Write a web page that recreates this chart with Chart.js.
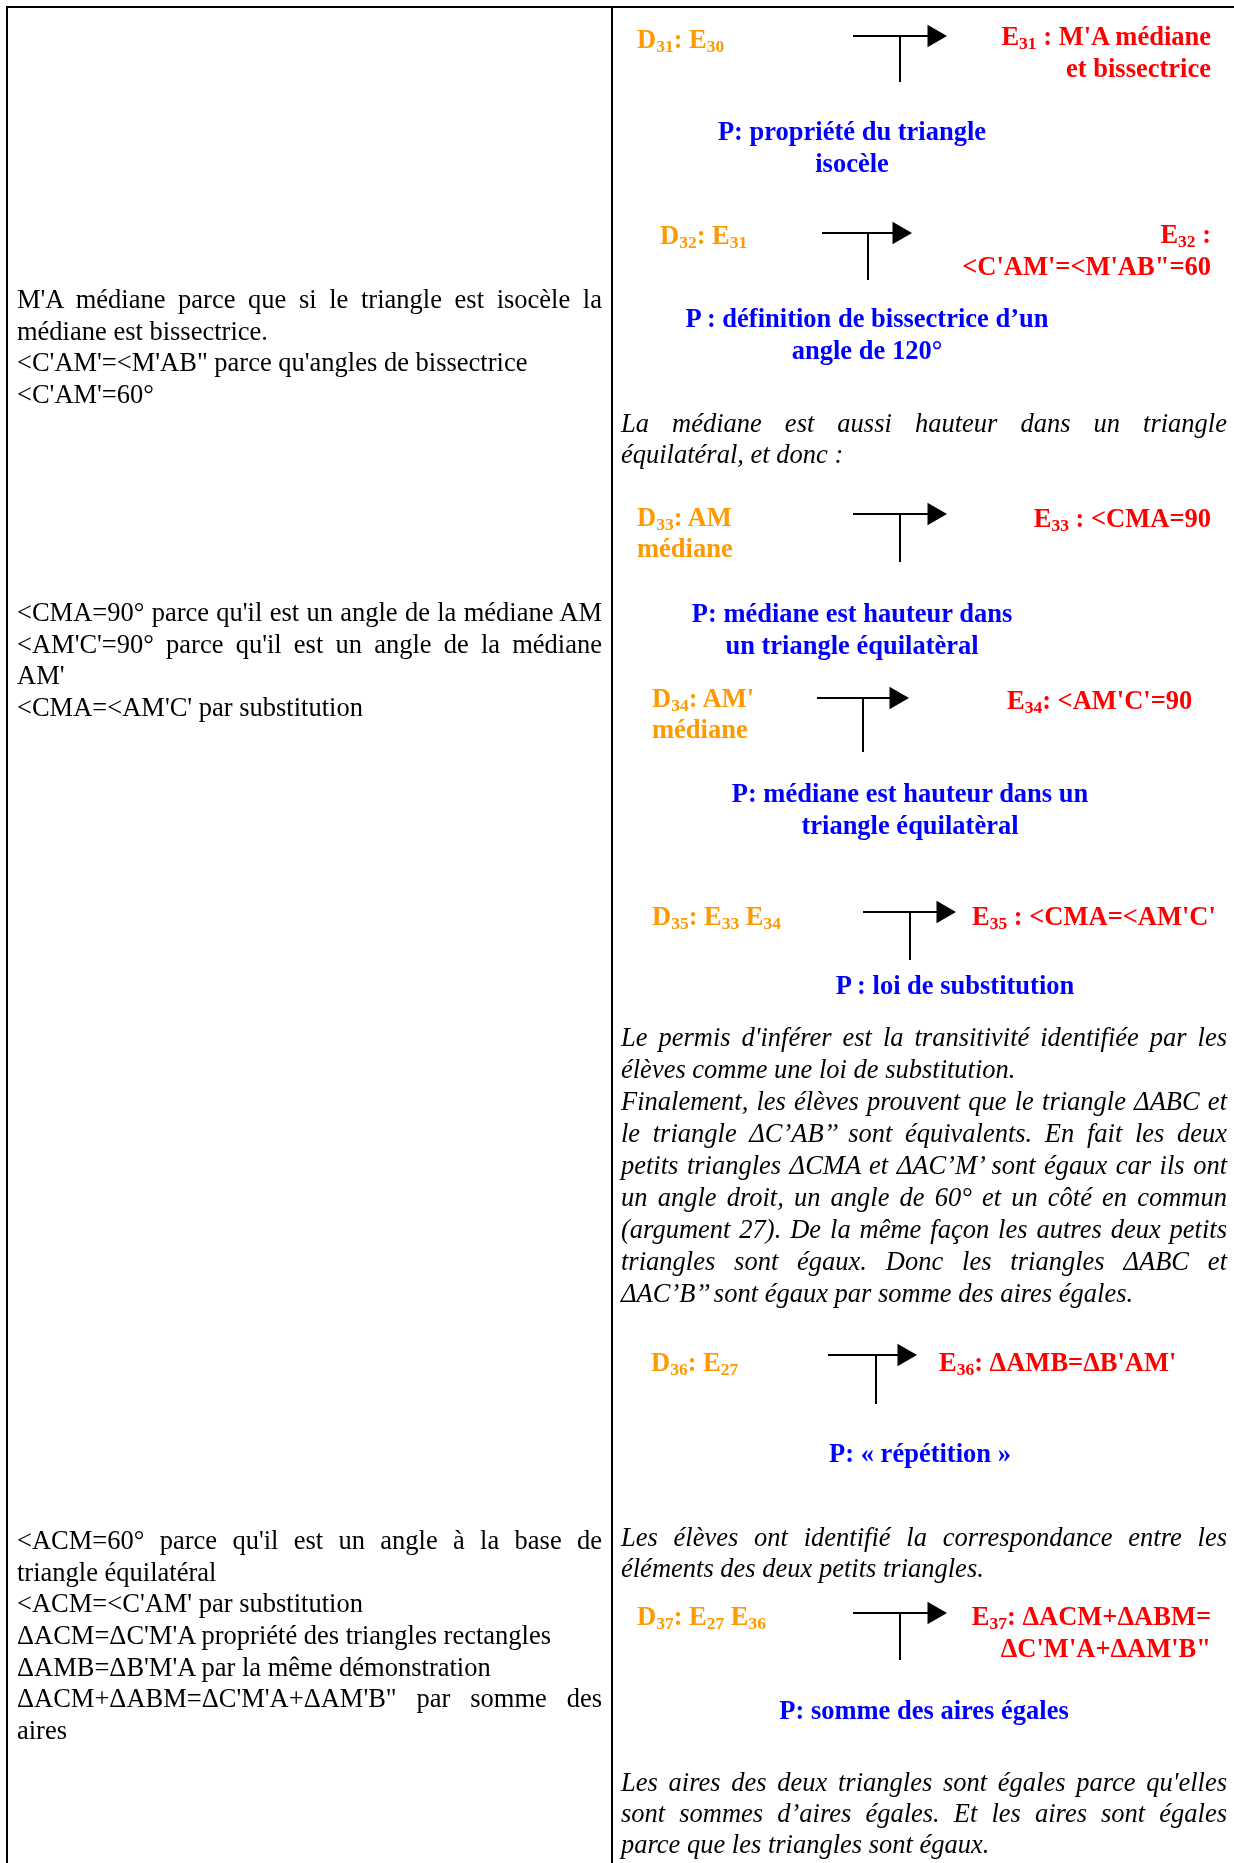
<!DOCTYPE html>
<html lang="fr">
<head>
<meta charset="UTF-8" />
<title>Étapes de la démonstration</title>
<script src="https://cdn.jsdelivr.net/npm/chart.js"></script>
<style>
  html, body { margin: 0; padding: 0; background: #fff; }
  #page {
    position: relative; width: 1234px; height: 1863px; overflow: hidden;
    font-family: "Liberation Serif", "Times New Roman", serif;
    font-size: 26.5px; color: #000;
  }
  #arrows { position: absolute; left: 0; top: 0; }
  .rule { position: absolute; background: #000; }
  .blk { position: absolute; white-space: nowrap; }
  .blk .j { text-align: justify; text-align-last: justify; white-space: normal; }
  .bold { font-weight: bold; }
  .it { font-style: italic; }
  .D { color: #ff9900; }
  .E { color: #ff0000; }
  .P { color: #0000ff; }
  sub { font-size: 0.66em; vertical-align: -0.22em; line-height: 0; }
</style>
</head>
<body>
<div id="page">
  <canvas id="arrows" width="1234" height="1863"></canvas>
  <div class="rule" style="left:6px;top:6px;width:1228px;height:2px"></div>
  <div class="rule" style="left:6px;top:6px;width:2px;height:1857px"></div>
  <div class="rule" style="left:611px;top:6px;width:2px;height:1857px"></div>
</div>

<script>
  // ---- texte de la colonne de gauche (explications des élèves) ----
  const leftNotes = [
    ["M'A médiane parce que si le triangle est isocèle la",
     "médiane est bissectrice.",
     "<C'AM'=<M'AB\" parce qu'angles de bissectrice",
     "<C'AM'=60°"],
    ["<CMA=90° parce qu'il est un angle de la médiane AM",
     "<AM'C'=90° parce qu'il est un angle de la médiane",
     "AM'",
     "<CMA=<AM'C' par substitution"],
    ["<ACM=60° parce qu'il est un angle à la base de",
     "triangle équilatéral",
     "<ACM=<C'AM' par substitution",
     "ΔACM=ΔC'M'A propriété des triangles rectangles",
     "ΔAMB=ΔB'M'A par la même démonstration",
     "ΔACM+ΔABM=ΔC'M'A+ΔAM'B\" par somme des",
     "aires"]
  ];
  const leftJustify = [[1, 0, 0, 0], [1, 1, 0, 0], [1, 0, 0, 0, 0, 1, 0]];
  const leftRows = [300, 613, 1541];

  // ---- étapes D -> E avec permis P ----
  const premises = [
    ["D_{31}: E_{30}"],
    ["D_{32}: E_{31}"],
    ["D_{33}: AM", "médiane"],
    ["D_{34}: AM'", "médiane"],
    ["D_{35}: E_{33} E_{34}"],
    ["D_{36}: E_{27}"],
    ["D_{37}: E_{27} E_{36}"]
  ];
  const conclusions = [
    ["E_{31} : M'A médiane", "et bissectrice"],
    ["E_{32} :", "<C'AM'=<M'AB\"=60"],
    ["E_{33} : <CMA=90"],
    ["E_{34}: <AM'C'=90"],
    ["E_{35} : <CMA=<AM'C'"],
    ["E_{36}: ΔAMB=ΔB'AM'"],
    ["E_{37}: ΔACM+ΔABM=", "ΔC'M'A+ΔAM'B\""]
  ];
  const permits = [
    ["P: propriété du triangle", "isocèle"],
    ["P : définition de bissectrice d’un", "angle de 120°"],
    ["P: médiane est hauteur dans", "un triangle équilatèral"],
    ["P: médiane est hauteur dans un", "triangle équilatèral"],
    ["P : loi de substitution"],
    ["P: « répétition »"],
    ["P: somme des aires égales"]
  ];

  // ---- commentaires en italique ----
  const comments = [
    ["La médiane est aussi hauteur dans un triangle",
     "équilatéral, et donc :"],
    ["Le permis d'inférer est la transitivité identifiée par les",
     "élèves comme une loi de substitution.",
     "Finalement, les élèves prouvent que le triangle ΔABC et",
     "le triangle ΔC’AB’’ sont équivalents. En fait les deux",
     "petits triangles ΔCMA et ΔAC’M’ sont égaux car ils ont",
     "un angle droit, un angle de 60° et un côté en commun",
     "(argument 27). De la même façon les autres deux petits",
     "triangles sont égaux. Donc les triangles ΔABC et",
     "ΔAC’B’’ sont égaux par somme des aires égales."],
    ["Les élèves ont identifié la correspondance entre les",
     "éléments des deux petits triangles."],
    ["Les aires des deux triangles sont égales parce qu'elles",
     "sont sommes d’aires égales. Et les aires sont égales",
     "parce que les triangles sont égaux."]
  ];
  const commentJustify = [[1, 0], [1, 0, 1, 1, 1, 1, 1, 1, 0], [1, 0], [1, 1, 0]];
  const commentRows = [423, 1037, 1537, 1782];
  const commentLead = [31, 32, 31, 31];

  // ---- flèches (coordonnées de page) ----
  const arrowY = [36, 233, 514, 698, 912, 1355, 1613];
  const arrowStart = [853, 822, 853, 817, 863, 828, 853];
  const arrowTip = [947, 912, 947, 909, 956, 917, 947];
  const stemX = [900, 868, 900, 863, 910, 876, 900];
  const stemEnd = [82, 280, 562, 752, 960, 1404, 1660];

  // layout of the step texts
  const premiseAt = [[637, 39], [660, 235], [637, 517], [652, 698], [652, 916], [651, 1362], [637, 1616]];
  const conclusionAt = [[1211, 36, "right"], [1211, 234, "right"], [1211, 518, "right"], [1007, 700, "left"],
                        [972, 916, "left"], [939, 1362, "left"], [1211, 1616, "right"]];
  const permitAt = [[852, 131], [867, 318], [852, 613], [910, 793], [955, 985], [920, 1453], [924, 1710]];

  const page = document.getElementById("page");

  function fmt(s) {
    return s.replace(/&/g, "&amp;").replace(/</g, "&lt;").replace(/>/g, "&gt;")
            .replace(/_\{(\d+)\}/g, "<sub>$1</sub>");
  }

  function addBlock(lines, cls, lh, centre, box, just) {
    const el = document.createElement("div");
    el.className = "blk " + cls;
    el.style.lineHeight = lh + "px";
    el.style.top = (centre - lh / 2) + "px";
    el.style.left = box.left + "px";
    if (box.width) el.style.width = box.width + "px";
    if (box.align) el.style.textAlign = box.align;
    lines.forEach((line, i) => {
      const row = document.createElement("div");
      row.innerHTML = fmt(line);
      if (just && just[i]) row.className = "j";
      el.appendChild(row);
    });
    page.appendChild(el);
  }

  leftNotes.forEach((lines, i) => {
    addBlock(lines, "", 31.6, leftRows[i], { left: 17, width: 585 }, leftJustify[i]);
  });

  comments.forEach((lines, i) => {
    addBlock(lines, "it", commentLead[i], commentRows[i], { left: 621, width: 606 }, commentJustify[i]);
  });

  premises.forEach((lines, i) => {
    addBlock(lines, "bold D", 31, premiseAt[i][1], { left: premiseAt[i][0] });
  });

  conclusions.forEach((lines, i) => {
    const [x, y, align] = conclusionAt[i];
    const box = align === "right" ? { left: x - 500, width: 500, align: "right" } : { left: x };
    addBlock(lines, "bold E", 32, y, box);
  });

  permits.forEach((lines, i) => {
    addBlock(lines, "bold P", 32, permitAt[i][1], { left: permitAt[i][0] - 300, width: 600, align: "center" });
  });

  // ---- flèches dessinées avec Chart.js ----
  const HEAD = 13;
  const datasets = [];
  arrowY.forEach((y, i) => {
    const line = { showLine: true, borderColor: "#000", borderWidth: 2, pointRadius: 0 };
    datasets.push(Object.assign({ data: [{ x: arrowStart[i], y: y }, { x: arrowTip[i] - HEAD, y: y }] }, line));
    datasets.push(Object.assign({ data: [{ x: stemX[i], y: y }, { x: stemX[i], y: stemEnd[i] }] }, line));
    datasets.push({
      data: [{ x: arrowTip[i] - HEAD, y: y }],
      showLine: false,
      pointStyle: "triangle",
      rotation: 90,
      pointRadius: HEAD,
      backgroundColor: "#000",
      borderColor: "#000",
      borderWidth: 0
    });
  });

  new Chart(document.getElementById("arrows").getContext("2d"), {
    type: "scatter",
    data: { datasets: datasets },
    options: {
      responsive: false,
      animation: false,
      events: [],
      layout: { padding: 0, autoPadding: false },
      plugins: { legend: { display: false }, tooltip: { enabled: false } },
      scales: {
        x: { type: "linear", min: 0, max: 1234, display: false },
        y: { type: "linear", min: 0, max: 1863, reverse: true, display: false }
      }
    }
  });
</script>
</body>
</html>
